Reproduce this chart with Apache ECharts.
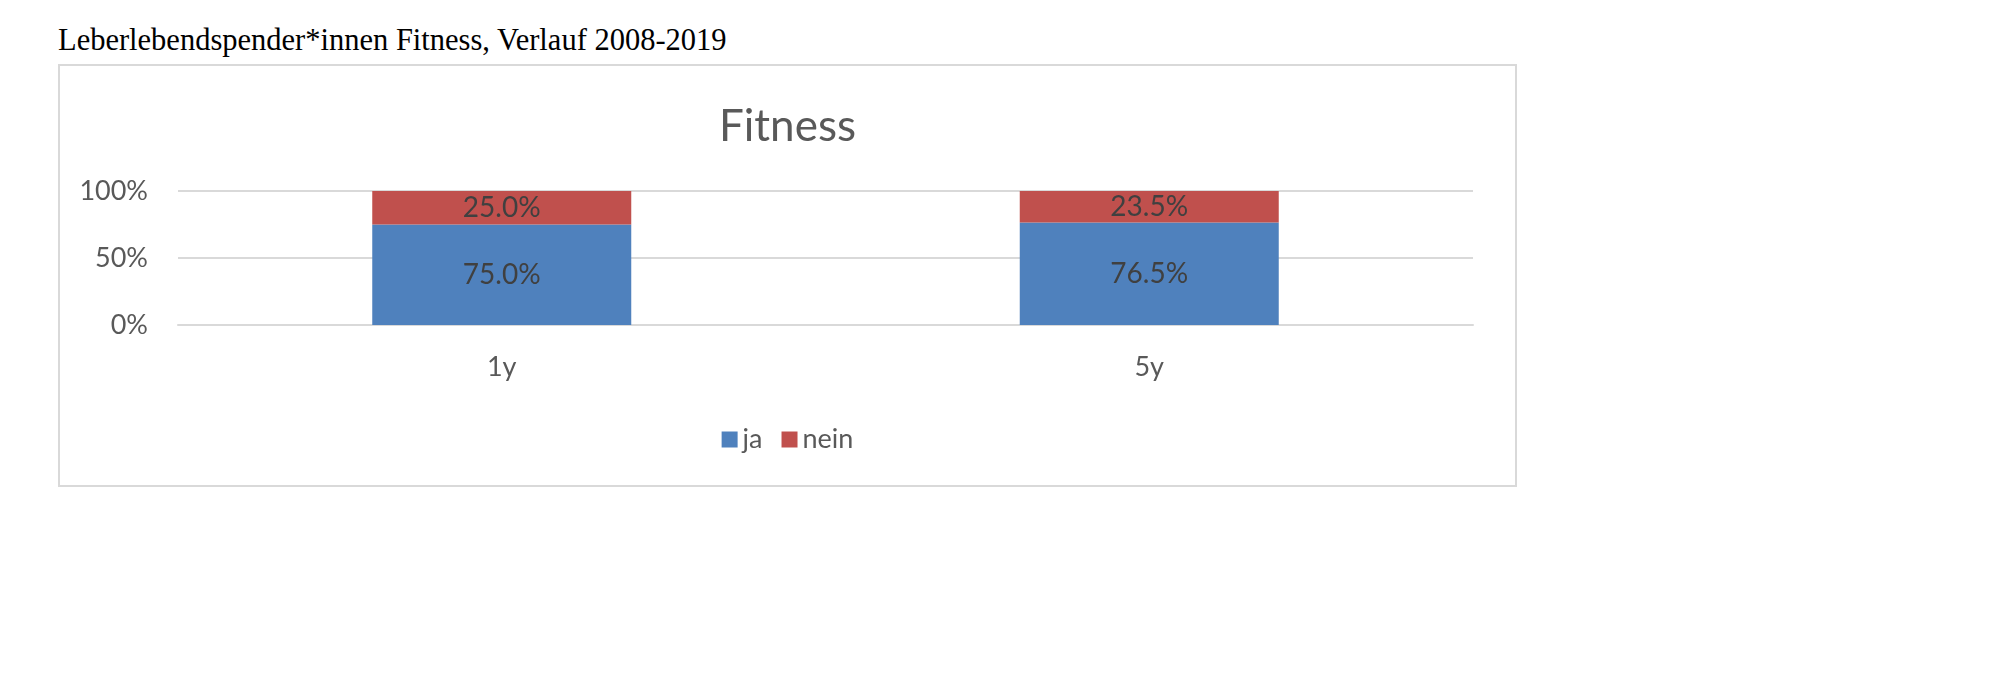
<!DOCTYPE html>
<html>
<head>
<meta charset="utf-8">
<script src="https://cdn.jsdelivr.net/npm/echarts@6/dist/echarts.min.js"></script>
<style>
  html, body { margin: 0; padding: 0; background: #fff; }
  body { width: 2000px; height: 681px; position: relative; overflow: hidden; }
  #caption {
    position: absolute; left: 58px; top: 23px;
    font-family: "Liberation Serif", "Times New Roman", serif;
    font-size: 30.5px; color: #000; white-space: nowrap;
  }
  #box {
    position: absolute; left: 58px; top: 64px; width: 1455px; height: 419px;
    border: 2px solid #d9d9d9;
  }
  /* chart sits over the box so that 'center' means the box centre */
  #chart { position: absolute; left: 58px; top: 0; width: 1459px; height: 681px; }
</style>
</head>
<body>
<div id="caption">Leberlebendspender*innen Fitness, Verlauf 2008-2019</div>
<div id="box"></div>
<div id="chart"></div>
<script>
// Werte
var categories = ['1y', '5y'];
var jaValues = [75.0, 76.5];
var neinValues = [25.0, 23.5];
var yTicks = [0, 50, 100];

var font = 'Lato, "Open Sans", sans-serif';
var myChart = echarts.init(document.getElementById('chart'), null, { renderer: 'canvas' });

function barLabel() {
    return {
        show: true,
        position: 'inside',
        color: '#404040',
        fontFamily: font,
        fontSize: 28,
        formatter: function (p) { return p.value.toFixed(1) + '%'; }
    };
}

var option = {
    backgroundColor: 'transparent',
    animation: false,
    title: {
        text: 'Fitness',
        left: 'center',
        top: 100,
        textStyle: { fontFamily: font, fontSize: 44, fontWeight: 'normal', color: '#595959' }
    },
    legend: {
        data: ['ja', 'nein'],
        left: 'center',
        top: 421,
        icon: 'rect',
        itemWidth: 16,
        itemHeight: 16,
        itemGap: 19,
        textStyle: { fontFamily: font, fontSize: 27, color: '#595959' }
    },
    grid: { left: 120, right: 44, top: 191, bottom: 356, containLabel: false },
    xAxis: {
        type: 'category',
        data: categories,
        axisLine: { show: true, lineStyle: { color: '#d9d9d9', width: 2 } },
        axisTick: { show: false },
        axisLabel: { fontFamily: font, fontSize: 27, color: '#595959', margin: 29 }
    },
    yAxis: {
        type: 'value',
        min: yTicks[0],
        max: yTicks[yTicks.length - 1],
        interval: 50,
        axisLine: { show: false },
        axisTick: { show: false },
        splitLine: { lineStyle: { color: '#d9d9d9', width: 2 } },
        axisLabel: { fontFamily: font, fontSize: 27, color: '#595959', margin: 30, formatter: '{value}%' }
    },
    series: [
        {
            name: 'ja',
            type: 'bar',
            stack: 'total',
            barWidth: '40%',
            data: jaValues,
            itemStyle: { color: '#4f81bd' },
            label: barLabel()
        },
        {
            name: 'nein',
            type: 'bar',
            stack: 'total',
            barWidth: '40%',
            data: neinValues,
            itemStyle: { color: '#c0504d' },
            label: barLabel()
        }
    ]
};
myChart.setOption(option);
</script>
</body>
</html>
